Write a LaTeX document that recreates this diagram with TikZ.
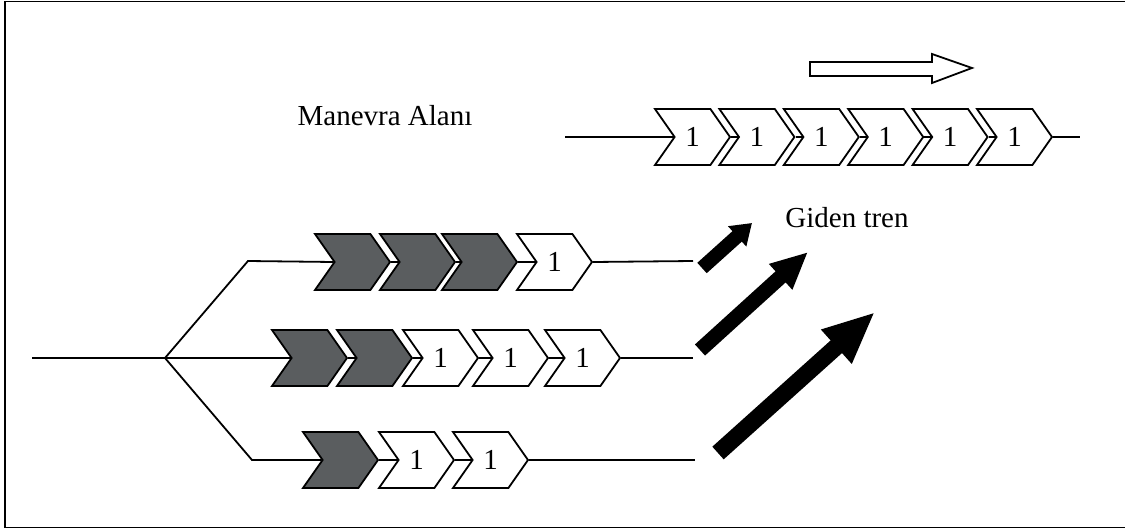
\documentclass[tikz,border=0pt]{standalone}
\usepackage{fontspec}
\setmainfont{Liberation Serif}
\usetikzlibrary{arrows.meta,shapes.symbols}

\begin{document}
\begin{tikzpicture}[x=1pt,y=-1pt,line width=1.8pt,font=\fontsize{29}{34}\selectfont]

	\definecolor{wagon}{RGB}{90,93,95}

	\useasboundingbox (0,0) rectangle (1125,530);
	\draw (5,1.5) rectangle (1140,527.5);

	\tikzstyle{edge} = [draw,-]
	\tikzstyle{push} = [draw=black,-{Triangle[length=20pt,width=26pt]}]
	\tikzset{chev/.style = {shape=signal,signal from=west,signal to=east,signal pointer angle=110,draw,fill=white,inner sep=0pt,minimum width=75pt,minimum height=56pt}}
	\tikzset{full/.style = {chev,fill=wagon}}

	% manevra alani, cikan dizi
	\node (area) at (385,116) {Manevra Alanı};
	\node (dep) at (847,218) {Giden tren};
	\draw[fill=white] (810,62) -- (932,62) -- (932,54) -- (972,68) -- (932,83) -- (932,76) -- (810,76) -- cycle;

	\node[chev] (t1) at (692.5,137) {1};
	\node[chev] (t2) at (756.9,137) {1};
	\node[chev] (t3) at (821.3,137) {1};
	\node[chev] (t4) at (885.7,137) {1};
	\node[chev] (t5) at (950.1,137) {1};
	\node[chev] (t6) at (1014.5,137) {1};
	\coordinate (tin) at (565,137);
	\coordinate (tout) at (1080,137);

	% hatlar
	\coordinate (in) at (32,358);
	\coordinate (j) at (165,358);
	\coordinate (ja) at (248,261);
	\coordinate (jc) at (252,460);

	\node[full] (a1) at (352.5,262) {};
	\node[full] (a2) at (417.5,262) {};
	\node[full] (a3) at (479.5,262) {};
	\node[chev] (a4) at (554.5,262) {1};
	\coordinate (aout) at (693,261);

	\node[full] (b1) at (309.5,358) {};
	\node[full] (b2) at (374.5,358) {};
	\node[chev] (b3) at (440.5,358) {1};
	\node[chev] (b4) at (510.5,358) {1};
	\node[chev] (b5) at (582.5,358) {1};
	\coordinate (bout) at (693,358);

	\node[full] (c1) at (340.5,460) {};
	\node[chev] (c2) at (416.5,460) {1};
	\node[chev] (c3) at (490.5,460) {1};
	\coordinate (cout) at (695,460);

	\draw[edge] (tin) -- (t1.west);
	\draw[edge] (t1.east) -- (t2.west);
	\draw[edge] (t2.east) -- (t3.west);
	\draw[edge] (t3.east) -- (t4.west);
	\draw[edge] (t4.east) -- (t5.west);
	\draw[edge] (t5.east) -- (t6.west);
	\draw[edge] (t6.east) -- (tout);

	\draw[edge] (in) -- (j) -- (b1.west);
	\draw[edge] (j) -- (ja) -- (a1.west);
	\draw[edge] (j) -- (jc) -- (c1.west);
	\draw[edge] (a1.east) -- (a2.west);
	\draw[edge] (a2.east) -- (a3.west);
	\draw[edge] (a3.east) -- (a4.west);
	\draw[edge] (a4.east) -- (aout);
	\draw[edge] (b1.east) -- (b2.west);
	\draw[edge] (b2.east) -- (b3.west);
	\draw[edge] (b3.east) -- (b4.west);
	\draw[edge] (b4.east) -- (b5.west);
	\draw[edge] (b5.east) -- (bout);
	\draw[edge] (c1.east) -- (c2.west);
	\draw[edge] (c2.east) -- (c3.west);
	\draw[edge] (c3.east) -- (cout);

	% cikis oklari
	\coordinate (s1) at (702,268);
	\coordinate (e1) at (752,223);
	\coordinate (s2) at (700,350);
	\coordinate (e2) at (808,252);
	\coordinate (s3) at (718,453);
	\coordinate (e3) at (875,312);
	\draw[push,line width=14pt] (s1) -- (e1);
	\draw[push,line width=15pt,-{Triangle[length=37pt,width=32pt]}] (s2) -- (e2);
	\draw[push,line width=17pt,-{Triangle[length=52pt,width=42pt]}] (s3) -- (e3);
\end{tikzpicture}
\end{document}
